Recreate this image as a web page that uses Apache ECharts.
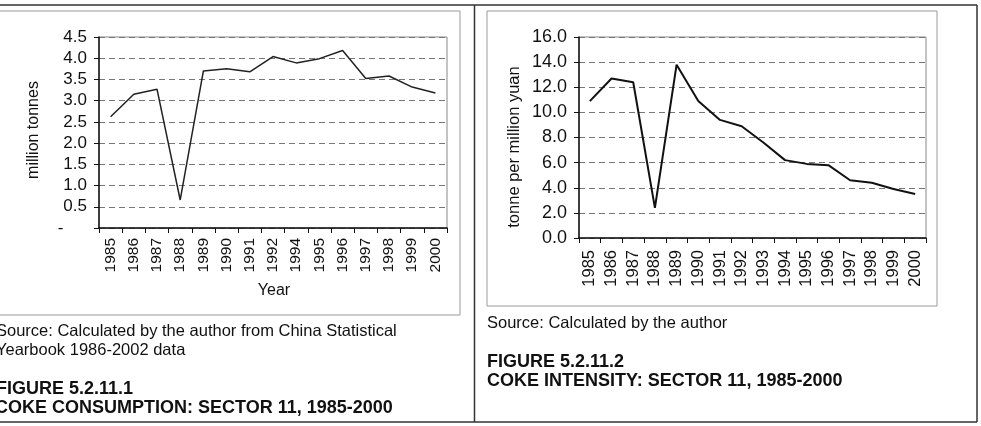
<!DOCTYPE html>
<html>
<head>
<meta charset="utf-8">
<script src="https://cdn.jsdelivr.net/npm/echarts@6/dist/echarts.min.js"></script>
<style>
html,body{margin:0;padding:0;background:#fff;}
#c{width:981px;height:426px;}
</style>
</head>
<body>
<div id="c"></div>
<script>
// ---- data ----
const yearsLeft = ['1985','1986','1987','1988','1989','1990','1991','1992','1994','1995','1996','1997','1998','1999','2000'];
const cokeConsumption = [2.62,3.15,3.27,0.66,3.70,3.75,3.68,4.04,3.89,3.99,4.18,3.52,3.58,3.32,3.18];
const yearsRight = ['1985','1986','1987','1988','1989','1990','1991','1992','1993','1994','1995','1996','1997','1998','1999','2000'];
const cokeIntensity = [10.9,12.7,12.4,2.4,13.8,10.9,9.4,8.9,7.6,6.2,5.9,5.8,4.6,4.4,3.9,3.5];
const leftYTicks = {min:0, max:4.5, step:0.5};
const rightYTicks = {min:0, max:16, step:2};

const FONT = '"Liberation Sans", Arial, sans-serif';
const chart = echarts.init(document.getElementById('c'), null, {renderer:'canvas'});

function txt(x, y, s, size, bold, extra) {
  return Object.assign({
    type:'text', x:x, y:y, silent:true,
    style:{text:s, fontFamily:FONT, fontSize:size, fontWeight:bold?'bold':'normal', fill:'#111', align:'left', verticalAlign:'middle'}
  }, extra||{});
}
function line(x1,y1,x2,y2,color,w){
  return {type:'line', silent:true, shape:{x1:x1,y1:y1,x2:x2,y2:y2}, style:{stroke:color, lineWidth:w}};
}

const axisCommon = {
  axisLine:{show:true, lineStyle:{color:'#111', width:1.5}},
  axisTick:{show:true, length:5, lineStyle:{color:'#111', width:1}},
};

chart.setOption({
  animation:false,
  backgroundColor:'#fff',
  grid:[
    {left:99, right:534, top:37, bottom:198, show:true, borderColor:'#888', borderWidth:1, backgroundColor:'transparent'},
    {left:579, right:55, top:37, bottom:188, show:true, borderColor:'#888', borderWidth:1, backgroundColor:'transparent'}
  ],
  xAxis:[
    Object.assign({type:'category', gridIndex:0, data:yearsLeft, boundaryGap:true,
      axisLabel:{rotate:90, margin:10, fontSize:15.5, fontFamily:FONT, color:'#111', interval:0},
      splitLine:{show:false}}, axisCommon),
    Object.assign({type:'category', gridIndex:1, data:yearsRight, boundaryGap:true,
      axisLabel:{rotate:90, margin:12, fontSize:16.5, fontFamily:FONT, color:'#111', interval:0},
      splitLine:{show:false}}, axisCommon)
  ],
  yAxis:[
    Object.assign({type:'value', gridIndex:0, min:leftYTicks.min, max:leftYTicks.max, interval:leftYTicks.step,
      axisLabel:{margin:12, fontSize:17, fontFamily:FONT, color:'#111',
        formatter:function(v){ return v===0 ? '-     ' : v.toFixed(1); }},
      splitLine:{show:true, lineStyle:{color:'#777', type:[6,4], width:1}}}, axisCommon),
    Object.assign({type:'value', gridIndex:1, min:rightYTicks.min, max:rightYTicks.max, interval:rightYTicks.step,
      axisLabel:{margin:12, fontSize:18, fontFamily:FONT, color:'#111',
        formatter:function(v){ return v.toFixed(1); }},
      splitLine:{show:true, lineStyle:{color:'#777', type:[6,4], width:1}}}, axisCommon)
  ],
  series:[
    {type:'line', xAxisIndex:0, yAxisIndex:0, data:cokeConsumption, symbol:'none',
      lineStyle:{color:'#222', width:1.5}},
    {type:'line', xAxisIndex:1, yAxisIndex:1, data:cokeIntensity, symbol:'none',
      lineStyle:{color:'#111', width:2}}
  ],
  graphic:[
    // outer frame
    line(0,5,977,5,'#333',1.5),
    line(977,5,977,422,'#333',1.5),
    line(0,422,977,422,'#333',1.5),
    line(474.5,5,474.5,422,'#333',1.5),
    // inner chart frames
    {type:'rect', silent:true, shape:{x:-2, y:11, width:462, height:304}, style:{fill:'none', stroke:'#999', lineWidth:1}},
    {type:'rect', silent:true, shape:{x:487, y:11, width:450, height:295}, style:{fill:'none', stroke:'#999', lineWidth:1}},
    // axis titles
    txt(34, 130, 'million tonnes', 16, false, {rotation:Math.PI/2, style:{text:'million tonnes', fontFamily:FONT, fontSize:16, fill:'#111', align:'center', verticalAlign:'middle'}}),
    txt(514, 147, 'tonne per million yuan', 16.5, false, {rotation:Math.PI/2, style:{text:'tonne per million yuan', fontFamily:FONT, fontSize:16.5, fill:'#111', align:'center', verticalAlign:'middle'}}),
    txt(274, 291, 'Year', 16, false, {style:{text:'Year', fontFamily:FONT, fontSize:16, fill:'#111', align:'center', verticalAlign:'middle'}}),
    // left captions
    txt(-4, 331, 'Source: Calculated by the author from China Statistical', 16.5, false),
    txt(-4, 350, 'Yearbook 1986-2002 data', 16.5, false),
    txt(-4, 389, 'FIGURE 5.2.11.1', 18, true),
    txt(-5, 408, 'COKE CONSUMPTION: SECTOR 11, 1985-2000', 18, true),
    // right captions
    txt(487, 323, 'Source: Calculated by the author', 16.5, false),
    txt(487, 362, 'FIGURE 5.2.11.2', 18, true),
    txt(487, 381, 'COKE INTENSITY: SECTOR 11, 1985-2000', 18, true)
  ]
});
</script>
</body>
</html>
